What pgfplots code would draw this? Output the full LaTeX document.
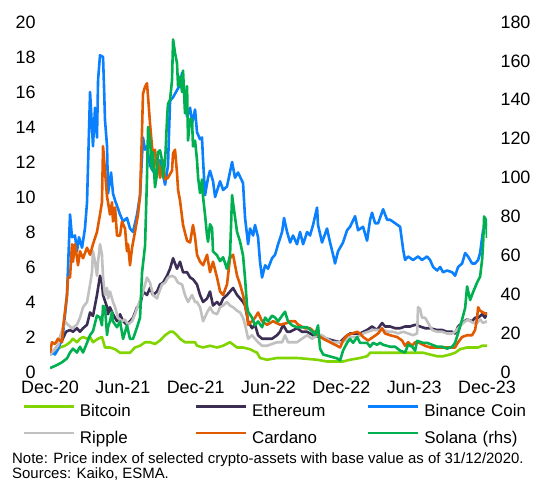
\documentclass[border=0pt]{standalone}
\usepackage{pgfplots}
\pgfplotsset{compat=1.18}
\usepackage{fontspec}
\setmainfont{Liberation Sans}
\definecolor{cbtc}{RGB}{128,212,0}
\definecolor{ceth}{RGB}{60,45,85}
\definecolor{cbnb}{RGB}{10,128,255}
\definecolor{cxrp}{RGB}{192,192,192}
\definecolor{cada}{RGB}{226,90,0}
\definecolor{csol}{RGB}{0,176,80}
\pgfplotsset{
  ser/.style={line width=2.6bp, line join=round, mark=none},
}
\begin{document}
\begin{tikzpicture}[x=1bp,y=1bp]
\path[use as bounding box] (0,0) rectangle (556,482);
\begin{axis}[
  at={(50bp,110bp)}, anchor=south west,
  scale only axis, width=437bp, height=350bp,
  xmin=0, xmax=36, ymin=0, ymax=20,
  axis x line*=bottom, axis y line*=left,
  axis line style={draw=none},
  major tick length=0pt,
  xtick={0,6,...,36},
  xticklabels={Dec-20,Jun-21,Dec-21,Jun-22,Dec-22,Jun-23,Dec-23},
  ytick={0,2,...,20},
  /pgf/number format/assume math mode=true,
  tick label style={font=\fontsize{18}{20}\selectfont, text=black},
  yticklabel style={xshift=-11bp},
  xticklabel style={yshift=-5bp},
  legend columns=3,
  legend cell align=left,
  legend style={draw=none, fill=none, inner sep=0pt, outer sep=0pt,
    at={(-0.0625,-0.0934)}, anchor=north west,
    font=\fontsize{17}{20}\selectfont,
    row sep=11bp,
    nodes={inner sep=0pt, outer sep=0pt, text width=115bp, text height=12bp, text depth=3.5bp},
    /tikz/every odd column/.append style={column sep=5bp},
    /tikz/every even column/.append style={column sep=0bp}},
  legend image code/.code={\draw[#1, line width=2.2bp] (0bp,6bp) -- (50bp,6bp);},
]
\addplot[ser, cbtc] coordinates {
(0,1.0)(0.82,1.4)(1.24,1.5)(1.65,1.7)(1.89,1.9)(2.22,1.7)(2.47,1.9)(2.72,2.0)(3.05,1.9)(3.30,2.0)(3.54,1.7)(3.96,1.9)(4.28,2.0)(4.53,1.4)(4.94,1.4)(5.36,1.3)(5.77,1.1)(6.18,1.1)(6.59,1.1)(7.00,1.4)(7.42,1.5)(7.83,1.7)(8.24,1.7)(8.65,1.6)(9.06,1.8)(9.48,2.1)(9.89,2.3)(10.14,2.3)(10.46,2.1)(10.71,1.9)(11.12,1.7)(11.54,1.7)(11.95,1.7)(12.11,1.5)(12.61,1.4)(13.18,1.5)(13.76,1.4)(14.26,1.5)(14.83,1.7)(15.41,1.4)(15.90,1.4)(16.48,1.3)(17.06,1.1)(17.30,0.8)(17.88,0.7)(18.70,0.8)(19.53,0.8)(20.35,0.8)(21.18,0.75)(22.00,0.7)(22.82,0.6)(23.65,0.6)(24.14,0.6)(24.72,0.7)(25.54,0.8)(26.12,0.9)(26.37,1.1)(26.94,1.1)(27.44,1.1)(28.02,1.1)(28.59,1.1)(29.09,1.1)(29.66,1.1)(30.24,1.1)(30.74,1.1)(31.31,1.0)(31.89,0.9)(32.38,0.9)(32.96,1.0)(33.37,1.1)(33.78,1.3)(34.36,1.4)(34.85,1.4)(35.27,1.4)(35.60,1.5)(36.0,1.5)
};
\addlegendentry{Bitcoin}
\addplot[ser, ceth] coordinates {
(0,1.0)(0.41,1.3)(0.66,1.5)(0.99,1.8)(1.32,2.3)(1.65,2.4)(1.89,2.3)(2.22,2.5)(2.47,2.3)(2.72,2.5)(3.05,2.7)(3.30,3.4)(3.54,3.2)(3.87,4.4)(4.12,5.5)(4.28,5.1)(4.37,4.4)(4.70,3.7)(4.78,3.3)(4.94,3.7)(5.19,3.3)(5.52,2.9)(5.77,3.3)(6.02,2.9)(6.34,2.7)(6.59,2.9)(6.84,3.1)(7.17,3.7)(7.42,3.8)(7.66,4.6)(7.99,4.4)(8.24,4.8)(8.49,4.4)(8.82,4.6)(9.06,5.0)(9.31,5.1)(9.64,5.5)(9.89,5.9)(10.14,6.5)(10.46,5.9)(10.71,6.3)(10.96,5.7)(11.29,5.7)(11.54,5.4)(11.78,5.3)(12.11,5.0)(12.36,4.4)(12.61,4.0)(12.94,4.2)(13.18,4.6)(13.43,3.8)(13.76,4.0)(14.01,3.8)(14.26,4.2)(14.58,4.4)(14.83,4.6)(15.08,4.8)(15.41,4.4)(15.66,4.2)(15.90,4.0)(16.07,3.8)(16.32,2.9)(16.64,2.5)(16.89,2.7)(17.14,2.1)(17.47,1.9)(17.88,1.9)(18.29,1.9)(18.70,2.1)(18.95,2.3)(19.20,2.7)(19.53,2.3)(19.78,2.3)(20.35,2.5)(20.76,2.3)(21.18,2.3)(21.67,2.1)(22.25,2.0)(22.82,1.9)(23.32,1.8)(23.90,1.7)(24.31,2.0)(24.72,2.2)(25.13,2.2)(25.54,2.2)(26.12,2.4)(26.53,2.6)(26.94,2.4)(27.36,2.8)(27.60,2.6)(28.02,2.6)(28.43,2.5)(28.84,2.5)(29.25,2.6)(29.66,2.6)(30.08,2.7)(30.49,2.6)(30.90,2.5)(31.31,2.5)(31.89,2.4)(32.30,2.4)(32.71,2.3)(33.13,2.3)(33.37,2.2)(33.62,2.6)(33.95,2.8)(34.36,3.0)(34.77,2.9)(35.02,3.1)(35.27,3.1)(35.60,3.3)(35.84,3.1)(36.0,3.4)
};
\addlegendentry{Ethereum}
\addplot[ser, cbnb] coordinates {
(0,1.0)(0.25,1.1)(0.41,1.0)(0.66,1.3)(0.82,1.6)(1.07,2.2)(1.24,3.3)(1.40,4.4)(1.65,9.0)(1.81,7.7)(2.06,7.8)(2.22,6.9)(2.39,7.7)(2.64,7.1)(2.88,8.2)(3.05,9.7)(3.30,16.0)(3.54,12.9)(3.71,15.1)(3.87,13.4)(3.96,16.7)(4.12,18.1)(4.37,18.0)(4.45,16.3)(4.53,14.4)(4.70,12.9)(4.78,10.2)(5.03,11.4)(5.19,10.2)(5.36,9.8)(5.52,9.5)(5.77,9.0)(6.02,8.6)(6.34,8.8)(6.59,8.2)(6.84,8.0)(7.17,9.0)(7.42,10.1)(7.66,13.4)(7.83,12.7)(7.99,12.9)(8.24,11.8)(8.65,11.3)(9.06,12.1)(9.48,10.7)(9.72,11.8)(9.89,15.5)(10.14,15.7)(10.46,16.1)(10.71,16.4)(10.88,17.1)(11.12,15.5)(11.29,14.6)(11.54,15.1)(11.70,14.2)(11.95,15.0)(12.11,13.7)(12.36,13.3)(12.52,13.4)(12.61,12.1)(12.77,10.1)(13.02,11.1)(13.18,11.5)(13.43,10.9)(13.60,10.0)(14.01,10.9)(14.26,10.4)(14.58,10.6)(15.00,12.0)(15.24,11.1)(15.49,11.4)(15.90,10.8)(16.07,8.8)(16.32,7.3)(16.48,8.2)(16.73,7.8)(16.89,8.4)(17.14,7.7)(17.30,6.3)(17.47,5.4)(17.72,6.1)(17.96,5.9)(18.29,6.5)(18.54,6.7)(18.79,7.3)(19.12,8.0)(19.28,8.8)(19.53,8.0)(19.78,7.4)(20.02,7.8)(20.35,7.3)(20.60,8.0)(20.85,7.3)(21.18,8.0)(21.42,7.8)(21.67,8.4)(22.00,9.4)(22.08,8.4)(22.41,7.4)(22.82,8.2)(23.07,7.4)(23.32,6.7)(23.48,6.2)(23.73,6.9)(24.14,7.4)(24.47,8.1)(24.72,8.3)(25.13,8.9)(25.38,8.1)(25.79,8.3)(26.12,7.5)(26.37,8.7)(26.53,9.1)(26.78,8.5)(27.03,8.5)(27.44,9.3)(27.77,8.7)(28.02,8.7)(28.43,8.5)(28.84,8.3)(29.09,7.0)(29.25,6.4)(29.50,6.6)(29.91,6.4)(30.32,6.6)(30.65,6.4)(31.06,6.6)(31.31,6.4)(31.56,6.0)(31.89,5.8)(32.14,6.0)(32.38,5.7)(32.71,5.8)(33.13,5.7)(33.37,5.5)(33.62,6.0)(33.95,6.2)(34.20,6.8)(34.44,6.6)(34.77,6.2)(35.02,6.2)(35.27,6.4)(35.43,6.8)(35.68,8.1)(36.0,8.5)
};
\addlegendentry{Binance Coin}
\addplot[ser, cxrp] coordinates {
(0,1.0)(0.41,1.3)(0.66,1.5)(0.82,2.0)(1.24,2.9)(1.48,2.7)(1.81,2.5)(2.22,2.7)(2.47,3.1)(2.72,3.7)(3.05,4.0)(3.30,5.0)(3.46,5.7)(3.54,6.9)(3.71,6.3)(3.87,5.5)(3.96,6.3)(4.12,7.3)(4.28,6.7)(4.37,5.4)(4.53,4.4)(4.70,4.8)(4.78,4.2)(4.94,4.6)(5.19,4.0)(5.36,3.7)(5.60,3.1)(5.93,2.9)(6.18,3.0)(6.43,2.7)(6.76,2.9)(7.00,3.3)(7.25,3.8)(7.58,4.4)(7.83,5.0)(7.99,5.4)(8.24,5.1)(8.49,4.4)(8.82,4.2)(8.90,4.4)(9.23,5.0)(9.48,5.1)(9.72,5.4)(10.05,5.5)(10.30,5.4)(10.55,5.1)(10.88,5.0)(11.12,4.4)(11.37,4.0)(11.70,4.4)(11.95,4.0)(12.11,4.0)(12.36,3.7)(12.61,2.9)(12.94,3.4)(13.18,3.7)(13.43,3.4)(13.76,3.3)(14.01,3.7)(14.26,3.8)(14.58,4.0)(14.83,3.8)(15.08,3.7)(15.41,3.5)(15.66,3.4)(15.90,3.1)(16.07,2.7)(16.32,1.9)(16.64,2.1)(16.89,1.9)(17.14,1.7)(17.47,1.5)(17.88,1.5)(18.29,1.6)(18.70,1.7)(19.12,1.7)(19.36,2.1)(19.61,1.7)(20.02,1.7)(20.35,1.7)(20.76,1.9)(21.18,2.1)(21.59,1.9)(22.00,2.1)(22.41,2.1)(22.82,1.9)(23.24,1.7)(23.65,1.7)(24.06,1.7)(24.31,1.8)(24.72,2.0)(25.30,2.0)(25.79,2.2)(26.20,2.3)(26.62,2.4)(27.03,2.4)(27.44,2.4)(27.85,2.3)(28.26,2.3)(28.68,2.2)(29.09,2.3)(29.50,2.2)(29.91,2.1)(30.24,2.2)(30.32,3.7)(30.49,3.6)(30.65,3.1)(30.90,3.1)(31.15,2.8)(31.48,2.4)(31.89,2.3)(32.30,2.3)(32.71,2.2)(33.13,2.2)(33.37,2.3)(33.62,2.5)(34.03,2.8)(34.44,3.0)(34.85,2.8)(35.18,2.8)(35.43,3.0)(35.68,2.8)(36.0,2.9)
};
\addlegendentry{Ripple}
\addplot[ser, cada] coordinates {
(0,1.1)(0.16,1.7)(0.41,1.6)(0.66,1.9)(0.99,1.7)(1.07,2.5)(1.40,4.4)(1.48,5.4)(1.65,5.4)(1.81,7.3)(1.89,6.3)(2.06,7.3)(2.31,6.1)(2.47,6.9)(2.72,6.5)(3.05,7.1)(3.30,6.7)(3.54,7.3)(3.87,8.0)(4.12,9.0)(4.28,9.7)(4.37,12.9)(4.53,11.5)(4.70,10.0)(4.78,9.7)(4.94,9.0)(5.11,9.7)(5.19,8.6)(5.36,9.4)(5.52,7.8)(5.77,7.8)(5.93,8.6)(6.18,8.2)(6.34,6.9)(6.43,7.3)(6.59,6.1)(6.76,7.1)(7.00,8.0)(7.25,9.0)(7.42,10.1)(7.58,13.8)(7.66,15.9)(7.83,16.3)(7.99,16.5)(8.08,15.7)(8.24,14.2)(8.40,12.9)(8.49,12.5)(8.65,12.7)(8.82,11.5)(8.90,12.1)(9.06,11.1)(9.31,12.1)(9.48,11.0)(9.72,11.1)(10.05,11.5)(10.14,12.5)(10.30,12.7)(10.46,11.4)(10.55,10.4)(10.71,9.8)(10.96,8.4)(11.29,7.5)(11.54,7.4)(11.78,8.4)(11.95,7.7)(12.11,6.7)(12.36,6.3)(12.61,6.1)(12.94,6.7)(13.18,5.7)(13.43,6.3)(13.76,5.4)(14.01,4.6)(14.26,4.4)(14.58,5.0)(14.83,6.5)(15.08,6.7)(15.41,5.5)(15.66,5.0)(15.90,4.4)(16.23,3.3)(16.32,2.7)(16.64,2.9)(16.89,3.1)(17.14,3.4)(17.47,2.9)(17.88,2.7)(18.38,2.9)(18.95,2.7)(19.53,2.8)(19.78,2.9)(20.19,2.9)(20.44,2.7)(21.01,2.5)(21.42,2.5)(22.08,2.1)(22.50,1.9)(23.07,1.7)(23.65,1.5)(23.90,1.4)(24.14,1.8)(24.47,2.1)(24.89,2.2)(25.30,2.3)(25.54,2.2)(25.79,2.0)(26.20,1.8)(26.62,2.0)(27.03,2.2)(27.36,2.5)(27.60,2.2)(28.02,2.1)(28.59,2.0)(29.00,1.8)(29.25,1.5)(29.50,1.7)(29.83,1.5)(30.08,1.7)(30.32,1.7)(30.90,1.5)(31.31,1.4)(31.89,1.4)(32.38,1.4)(32.96,1.4)(33.37,1.4)(33.62,1.7)(33.95,2.0)(34.36,2.1)(34.77,2.1)(35.02,2.4)(35.18,3.1)(35.27,3.7)(35.43,3.5)(35.68,3.4)(36.0,3.3)
};
\addlegendentry{Cardano}
\addlegendimage{ser, csol}
\addlegendentry{Solana (rhs)}
\end{axis}
\begin{axis}[
  at={(50bp,110bp)}, anchor=south west,
  scale only axis, width=437bp, height=350bp,
  xmin=0, xmax=36, ymin=0, ymax=180,
  axis x line=none, axis y line*=right,
  axis line style={draw=none},
  major tick length=0pt,
  xtick=\empty,
  ytick={0,20,...,180},
  /pgf/number format/assume math mode=true,
  tick label style={font=\fontsize{18}{20}\selectfont, text=black},
  yticklabel style={xshift=10bp},
]
\addplot[ser, csol] coordinates {
(0,2)(0.58,3.6)(0.99,5)(1.40,7)(1.65,10)(1.89,12)(2.22,10)(2.47,13)(2.72,10)(3.05,15)(3.30,19)(3.54,21)(3.87,29)(4.12,28)(4.28,24)(4.37,34)(4.53,33)(4.70,19)(4.78,23)(4.94,26)(5.11,31)(5.19,26)(5.52,23)(5.77,26)(6.02,17)(6.34,24)(6.59,17)(6.84,17)(7.17,23)(7.42,28)(7.58,51)(7.83,65)(7.99,100)(8.08,126)(8.24,119)(8.40,104)(8.49,113)(8.65,95)(8.82,102)(8.90,113)(9.06,114)(9.23,109)(9.31,100)(9.48,108)(9.64,130)(9.72,138)(9.89,140)(10.05,150)(10.14,171)(10.30,164)(10.46,159)(10.55,147)(10.71,152)(10.88,144)(10.96,155)(11.12,133)(11.29,147)(11.37,119)(11.54,130)(11.70,130)(11.78,116)(11.95,119)(12.11,109)(12.20,100)(12.36,92)(12.52,99)(12.61,90)(12.77,81)(12.94,70)(13.02,67)(13.18,76)(13.35,74)(13.43,62)(13.76,60)(14.01,57)(14.26,59)(14.58,53)(14.83,60)(15.00,91)(15.08,87)(15.41,72)(15.66,67)(15.90,60)(16.07,48)(16.23,34)(16.32,31)(16.64,28)(16.89,24)(17.14,26)(17.47,23)(17.72,28)(17.96,26)(18.29,29)(18.54,28)(18.79,26)(19.12,29)(19.36,31)(19.61,26)(19.94,24)(20.35,23)(20.76,23)(21.18,23)(21.59,21)(21.84,19)(22.08,24)(22.25,12)(22.50,9)(23.07,8)(23.65,7)(23.90,6)(24.14,11)(24.47,15)(24.72,17)(24.97,15)(25.30,18)(25.54,15)(26.12,15)(26.37,13)(26.62,15)(26.94,14)(27.19,15)(27.44,14)(28.02,13)(28.43,13)(28.84,11)(29.25,10)(29.50,14)(29.83,13)(30.08,11)(30.24,16)(30.74,15)(31.06,15)(31.48,14)(31.89,13)(32.30,13)(32.71,12)(33.13,13)(33.37,15)(33.62,20)(33.95,27)(34.20,33)(34.36,44)(34.61,37)(34.85,41)(35.18,46)(35.43,49)(35.60,58)(35.68,66)(35.76,80)(35.93,78)(36.0,69)
};
\end{axis}
\node[anchor=base west, inner sep=0pt, font=\fontsize{15}{18}\selectfont] at (12,18) {Note: Price index of selected crypto-assets with base value as of 31/12/2020.};
\node[anchor=base west, inner sep=0pt, font=\fontsize{15}{18}\selectfont] at (12,3) {Sources: Kaiko, ESMA.};
\end{tikzpicture}
\end{document}
